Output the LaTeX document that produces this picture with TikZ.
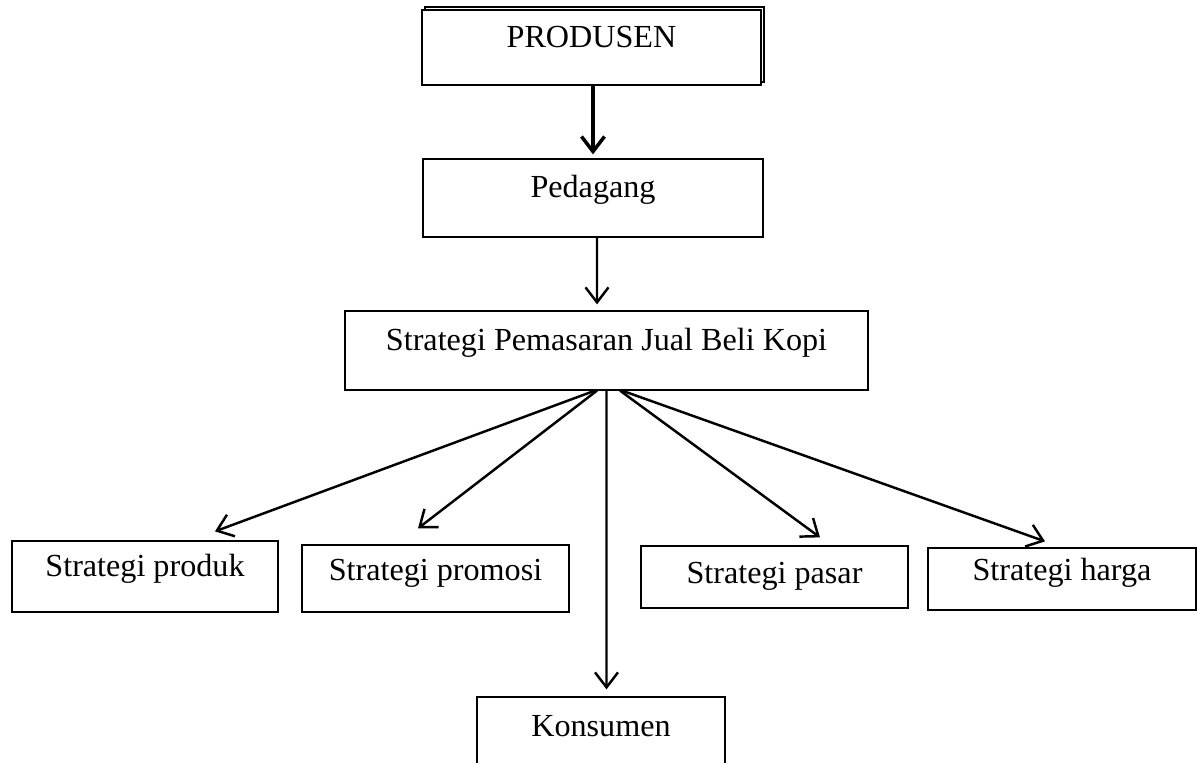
\documentclass[tikz,border=0pt]{standalone}
\usepackage{fontspec}
\setmainfont{Liberation Serif}
\usetikzlibrary{arrows.meta,shadows}
\begin{document}
\begin{tikzpicture}[x=.02cm,y=-.02cm,
	kotak/.style={draw,line width=.7pt,fill=white,text height=3mm,text depth=3mm,font=\fontsize{18.3}{20}\selectfont},
	turun/.style={text height=4.2mm,text depth=1.8mm},
	panah/.style={line width=1.4pt,-{Straight Barb[length=.3cm,width=.46cm]}}]
	\useasboundingbox (0,0) rectangle (1197,763);
	\node[kotak,minimum width=6.78cm,minimum height=1.5cm,copy shadow={shadow xshift=.06cm,shadow yshift=.06cm}] (produsen) at (591.5,47.5) {PRODUSEN};
	\node[kotak,minimum width=6.8cm,minimum height=1.56cm] (pedagang) at (593,198) {Pedagang};
	\node[kotak,minimum width=10.46cm,minimum height=1.58cm] (strategi) at (606.5,350.5) {Strategi Pemasaran Jual Beli Kopi};
	\node[kotak,minimum width=5.32cm,minimum height=1.42cm] (produk) at (145,576.5) {Strategi produk};
	\node[kotak,minimum width=5.34cm,minimum height=1.34cm,text height=3.4mm,text depth=2.6mm] (promosi) at (435.5,578.5) {Strategi promosi};
	\node[kotak,turun,minimum width=5.34cm,minimum height=1.24cm] (pasar) at (774.5,577) {Strategi pasar};
	\node[kotak,minimum width=5.36cm,minimum height=1.24cm,text height=3.3mm,text depth=2.7mm] (harga) at (1062,579) {Strategi harga};
	\node[kotak,minimum width=4.96cm,minimum height=1.56cm] (konsumen) at (601,736) {Konsumen};
	\draw[panah,line width=2pt] (pedagang.north |- produsen.south) -- ([yshift=.08cm]pedagang.north);
	\draw[panah] ([xshift=.08cm]pedagang.south) -- ([xshift=-.19cm,yshift=.12cm]strategi.north);
	\draw[panah] ([xshift=-.23cm]strategi.south) -- ([xshift=1.4cm,yshift=.18cm]produk.north);
	\draw[panah] ([xshift=-.19cm]strategi.south) -- ([xshift=-.35cm,yshift=.32cm]promosi.north);
	\draw[panah] (strategi.south) -- ([xshift=.11cm,yshift=.14cm]konsumen.north);
	\draw[panah] ([xshift=.27cm]strategi.south) -- ([xshift=.91cm,yshift=.16cm]pasar.north);
	\draw[panah] ([xshift=.31cm]strategi.south) -- ([xshift=-.34cm,yshift=.12cm]harga.north);
\end{tikzpicture}
\end{document}
